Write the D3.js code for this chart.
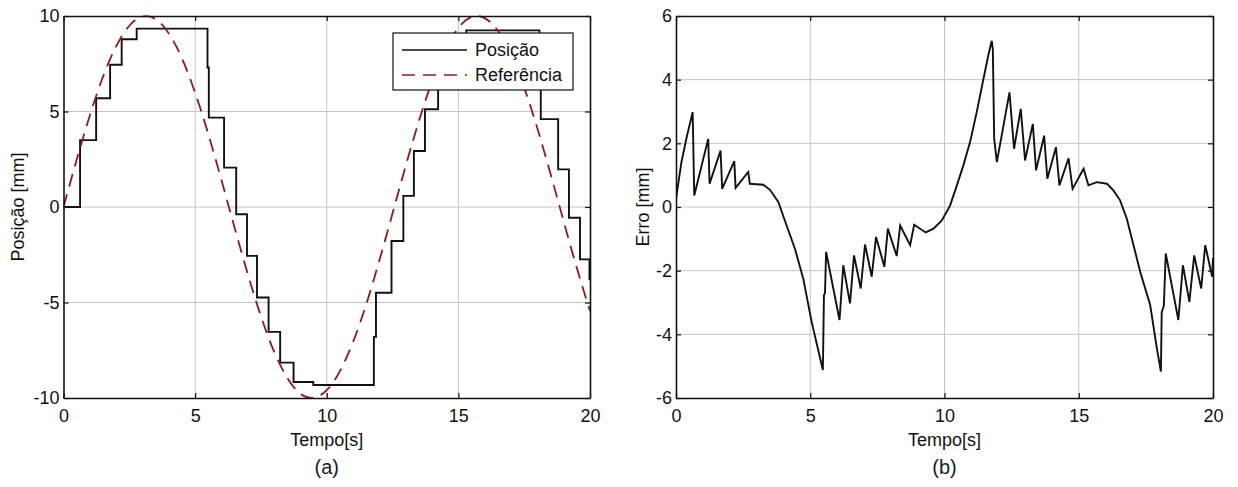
<!DOCTYPE html>
<html>
<head>
<meta charset="utf-8">
<script src="https://cdn.jsdelivr.net/npm/d3@7"></script>
<style>
body { margin: 0; background: #fff; }
text { font-family: "Liberation Sans", Arial, sans-serif; fill: #111; }
</style>
</head>
<body>
<svg id="fig"></svg>
<script>
// ---- data ----
var timeTicks = [0, 5, 10, 15, 20];
var posTicks = [-10, -5, 0, 5, 10];
var errTicks = [-6, -4, -2, 0, 2, 4, 6];

// reference signal (dashed), sampled every 0.5 s
var refT = [0, 0.5, 1, 1.5, 2, 2.5, 3, 3.5, 4, 4.5, 5, 5.5, 6, 6.5, 7, 7.5, 8, 8.5, 9, 9.5,
            10, 10.5, 11, 11.5, 12, 12.5, 13, 13.5, 14, 14.5, 15, 15.5, 16, 16.5, 17, 17.5, 18, 18.5, 19, 19.5, 20];
var refV = [0, 2.47, 4.79, 6.82, 8.41, 9.49, 9.97, 9.84, 9.09, 7.78, 5.98, 3.82, 1.41, -1.08, -3.51, -5.72, -7.57, -8.95, -9.78, -9.99,
            -9.59, -8.59, -7.06, -5.10, -2.79, -0.33, 2.15, 4.50, 6.57, 8.23, 9.38, 9.95, 9.89, 9.23, 7.99, 6.25, 4.12, 1.74, -0.75, -3.20, -5.44];

// measured position (staircase): step times and the level held after each
var posT = [0, 0.63, 1.24, 1.77, 2.21, 2.78, 5.47, 5.52, 6.1, 6.56, 6.97, 7.35, 7.79, 8.23, 8.74, 9.49,
            11.79, 11.87, 12.46, 12.91, 13.31, 13.73, 14.23, 14.7, 15.3, 18.08, 18.13, 18.79, 19.2, 19.62, 19.98, 20];
var posV = [0, 3.5, 5.69, 7.45, 8.78, 9.34, 7.3, 4.68, 2.06, -0.38, -2.56, -4.74, -6.54, -8.15, -9.16, -9.32,
            -6.8, -4.49, -1.78, 0.58, 2.93, 5.12, 7.1, 8.5, 9.25, 7.3, 4.6, 1.97, -0.56, -2.74, -3.79, -3.79];

// tracking error
var errT = [0, 0.2, 0.4, 0.62, 0.68, 1.2, 1.25, 1.66, 1.72, 2.17, 2.22, 2.69, 2.75, 3.25, 3.5, 3.81, 4.12, 4.43, 4.74, 5.05,
            5.47, 5.51, 5.55, 5.59, 6.09, 6.23, 6.48, 6.63, 6.88, 7.04, 7.29, 7.45, 7.76, 7.89, 8.22, 8.35, 8.72, 8.87, 9.3, 9.59,
            9.9, 10.21, 10.46, 10.7, 10.95, 11.2, 11.45, 11.64, 11.76, 11.8, 11.85, 11.95, 12.42, 12.59, 12.84, 13.0, 13.29, 13.41, 13.71, 13.83,
            14.15, 14.28, 14.62, 14.77, 15.18, 15.36, 15.67, 16.05, 16.29, 16.54, 16.79, 17.04, 17.29, 17.66, 17.91, 18.06, 18.09, 18.17, 18.24, 18.71,
            18.88, 19.12, 19.3, 19.56, 19.71, 19.97, 20];
var errV = [0.25, 1.4, 2.2, 2.98, 0.36, 2.14, 0.73, 1.77, 0.57, 1.44, 0.6, 1.1, 0.73, 0.7, 0.54, 0.16, -0.58, -1.31, -2.25, -3.6,
            -5.12, -2.77, -2.7, -1.41, -3.55, -1.83, -3.03, -1.52, -2.56, -1.18, -2.19, -0.94, -1.88, -0.68, -1.54, -0.58, -1.2, -0.56, -0.8, -0.68,
            -0.42, 0.05, 0.68, 1.3, 2.03, 2.98, 4.02, 4.8, 5.22, 4.96, 2.14, 1.41, 3.6, 1.83, 3.08, 1.46, 2.61, 1.15, 2.24, 0.89,
            1.88, 0.68, 1.53, 0.57, 1.2, 0.68, 0.78, 0.73, 0.52, 0.21, -0.37, -1.2, -2.04, -3.08, -4.44, -5.17, -3.3, -3.1, -1.46, -3.55,
            -1.83, -2.98, -1.52, -2.56, -1.2, -2.19, -1.6];

var legendNames = ["Posição", "Referência"];

// ---- figure ----
var W = 1238, H = 487;
var FS = '18px';
var svg = d3.select('#fig').attr('width', W).attr('height', H);
svg.append('rect').attr('width', W).attr('height', H).attr('fill', '#fff');

function zip(a, b) { return a.map(function(v, i) { return [v, b[i]]; }); }
function plain(d) { return String(d); }   // keep the ascii hyphen like the original

function panel(id, left, right, top, bottom, yDomain, yTicks, yLabel, ylabX, tag) {
  var x = d3.scaleLinear().domain([0, 20]).range([left, right]);
  var y = d3.scaleLinear().domain(yDomain).range([bottom, top]);
  var g = svg.append('g');

  // grid
  g.selectAll('line.gx').data(timeTicks.slice(1, -1)).enter().append('line')
    .attr('x1', function(d) { return x(d); }).attr('x2', function(d) { return x(d); })
    .attr('y1', top).attr('y2', bottom)
    .style('stroke', '#c4c4c4').style('stroke-width', 1);
  g.selectAll('line.gy').data(yTicks.slice(1, -1)).enter().append('line')
    .attr('y1', function(d) { return y(d); }).attr('y2', function(d) { return y(d); })
    .attr('x1', left).attr('x2', right)
    .style('stroke', '#c4c4c4').style('stroke-width', 1);

  svg.append('clipPath').attr('id', 'clip' + id).append('rect')
    .attr('x', left).attr('y', top - 1).attr('width', right - left).attr('height', bottom - top + 2);

  return { x: x, y: y, g: g, draw: function() {
    // axes with inward ticks on all four sides
    var ax = [
      g.append('g').attr('transform', 'translate(0,' + bottom + ')')
        .call(d3.axisBottom(x).tickValues(timeTicks).tickFormat(plain).tickSizeInner(-5).tickSizeOuter(0).tickPadding(11)),
      g.append('g').attr('transform', 'translate(0,' + top + ')')
        .call(d3.axisTop(x).tickValues(timeTicks).tickSizeInner(-5).tickSizeOuter(0).tickFormat('')),
      g.append('g').attr('transform', 'translate(' + left + ',0)')
        .call(d3.axisLeft(y).tickValues(yTicks).tickFormat(plain).tickSizeInner(-5).tickSizeOuter(0).tickPadding(4)),
      g.append('g').attr('transform', 'translate(' + right + ',0)')
        .call(d3.axisRight(y).tickValues(yTicks).tickSizeInner(-5).tickSizeOuter(0).tickFormat(''))
    ];
    ax.forEach(function(a) {
      a.select('.domain').style('stroke', '#111').style('stroke-width', 1.6);
      a.selectAll('.tick line').style('stroke', '#111').style('stroke-width', 1.2);
      a.selectAll('.tick text').style('font-size', FS).style('fill', '#111')
        .style('font-family', '"Liberation Sans", Arial, sans-serif');
    });
    g.append('text').attr('x', (left + right) / 2).attr('y', 446)
      .attr('text-anchor', 'middle').style('font-size', FS).text('Tempo[s]');
    g.append('text').attr('transform', 'translate(' + ylabX + ',' + ((top + bottom) / 2) + ') rotate(-90)')
      .attr('dy', '0.35em').attr('text-anchor', 'middle').style('font-size', FS).text(yLabel);
    g.append('text').attr('x', (left + right) / 2).attr('y', 474)
      .attr('text-anchor', 'middle').style('font-size', '20px').style('fill', '#1a1a2a').text(tag);
  }};
}

// (a) position vs reference
var pa = panel('a', 63.5, 590, 16, 398, [-10, 10], posTicks, 'Posição [mm]', 18, '(a)');
var pos = zip(posT, posV), ref = zip(refT, refV);

pa.g.append('path').datum(pos)
  .attr('clip-path', 'url(#clipa)')
  .attr('d', d3.line().x(function(d) { return pa.x(d[0]); }).y(function(d) { return pa.y(d[1]); }).curve(d3.curveStepAfter))
  .style('fill', 'none').style('stroke', '#111').style('stroke-width', 1.9);
pa.g.append('path').datum(ref)
  .attr('clip-path', 'url(#clipa)')
  .attr('d', d3.line().x(function(d) { return pa.x(d[0]); }).y(function(d) { return pa.y(d[1]); }).curve(d3.curveNatural))
  .style('fill', 'none').style('stroke', '#8b1c1c').style('stroke-width', 1.8).style('stroke-dasharray', '13,8');
pa.draw();

// legend
var lg = pa.g.append('g');
lg.append('rect').attr('x', 393).attr('y', 33).attr('width', 180).attr('height', 57)
  .style('fill', '#fff').style('stroke', '#111').style('stroke-width', 1.2);
lg.selectAll('line.key').data(legendNames).enter().append('line')
  .attr('x1', 402).attr('x2', 467)
  .attr('y1', function(d, i) { return 50 + i * 25; }).attr('y2', function(d, i) { return 50 + i * 25; })
  .style('stroke', function(d, i) { return i ? '#8b1c1c' : '#111'; })
  .style('stroke-width', 1.6)
  .style('stroke-dasharray', function(d, i) { return i ? '13,8' : null; });
lg.selectAll('text.key').data(legendNames).enter().append('text')
  .attr('x', 475).attr('y', function(d, i) { return 50 + i * 25; }).attr('dy', '0.35em')
  .style('font-size', FS).text(function(d) { return d; });

// (b) error
var pb = panel('b', 676, 1213, 16, 398, [-6, 6], errTicks, 'Erro [mm]', 643, '(b)');
pb.g.append('path').datum(zip(errT, errV))
  .attr('clip-path', 'url(#clipb)')
  .attr('d', d3.line().x(function(d) { return pb.x(d[0]); }).y(function(d) { return pb.y(d[1]); }))
  .style('fill', 'none').style('stroke', '#111').style('stroke-width', 1.9);
pb.draw();
</script>
</body>
</html>
